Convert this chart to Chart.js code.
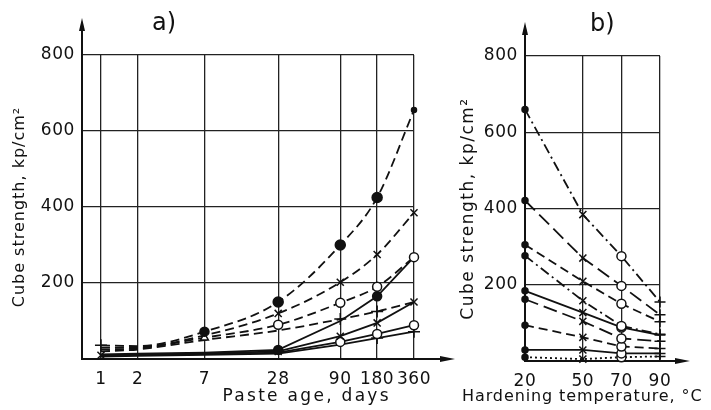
<!DOCTYPE html>
<html>
<head>
  <meta charset="UTF-8">
  <title>Cube strength of paste</title>
  <script src="https://cdn.jsdelivr.net/npm/chart.js"></script>
  <style>
    body {
      margin: 0;
      background: #fff;
    }

    #wrap {
      position: relative;
      width: 711px;
      height: 410px;
      overflow: hidden;
    }

    canvas {
      position: absolute;
      top: 0;
    }

    #chartA { left: 0; }
    #chartB { left: 450px; }

    .tag {
      position: absolute;
      font: 24px "DejaVu Sans", sans-serif;
      color: #111;
    }

    #tempTitle {
      position: absolute;
      left: 462px;
      top: 386px;
      font: 16px "DejaVu Sans", sans-serif;
      letter-spacing: 0.9px;
      color: #111;
      white-space: nowrap;
    }
  </style>
</head>
<body>
  <div id="wrap">
    <canvas id="chartA" width="470" height="410"></canvas>
    <canvas id="chartB" width="261" height="410"></canvas>
    <div class="tag" style="left:152px;top:8px">a)</div>
    <div class="tag" style="left:590px;top:9px">b)</div>
    <div id="tempTitle">Hardening temperature, °C</div>
  </div>

  <script>
    // a) strength against paste age
    var ageDays = [1, 2, 7, 28, 90, 180, 360];
    var ageDash1 = [36, 34, 72, 150, 300, 425, 655];
    var ageDash2 = [30, 31, 62, 120, 202, 275, 385];
    var ageDash3 = [25, 28, 56, 90, 148, 190, 268];
    var ageDash4 = [20, 25, 50, 75, 105, 125, 150];
    var ageSolid1 = [12, 14, 17, 24, 100, 165, 268];
    var ageSolid2 = [10, 12, 15, 20, 60, 95, 150];
    var ageSolid3 = [8, 10, 13, 17, 45, 66, 89];
    var ageSolid4 = [6, 8, 11, 14, 38, 55, 72];

    // b) strength against hardening temperature
    var tempC = [20, 50, 70, 90];
    var tempDashDot1 = [660, 384, 275, 155];
    var tempLongDash1 = [421, 270, 197, 121];
    var tempDash1 = [305, 209, 150, 103];
    var tempDashDot2 = [276, 158, 92, 70];
    var tempSolid1 = [184, 127, 88, 68];
    var tempLongDash2 = [162, 104, 59, 52];
    var tempDash2 = [94, 62, 38, 33];
    var tempSolid2 = [29, 29, 20, 20];
    var tempDotted = [10, 5, 10, 12];

    var strengthTicks = [0, 200, 400, 600, 800];

    var INK = '#111';
    Chart.defaults.font.family = '"DejaVu Sans", sans-serif';
    Chart.defaults.color = INK;

    function pts(xs, ys) {
      return xs.map(function (x, i) { return { x: x, y: ys[i] }; });
    }

    function series(xs, ys, dash, marks) {
      return Object.assign({
        data: pts(xs, ys),
        borderColor: INK,
        borderWidth: 1.8,
        borderDash: dash,
        pointBorderColor: INK,
        pointBorderWidth: 1.5,
        pointBackgroundColor: INK,
        clip: false,
        tension: 0
      }, marks);
    }

    // the old lettering is widely spaced, so give the axis titles some letter spacing
    function spaceTitle(s, sp) {
      if (s._spaced) return;
      s._spaced = true;
      var orig = s.drawTitle;
      s.drawTitle = function () {
        var c = this.ctx, old = c.letterSpacing;
        c.letterSpacing = sp;
        orig.apply(this, arguments);
        c.letterSpacing = old;
      };
    }

    var tickSpacing = {
      id: 'tickSpacing',
      beforeDraw: function (chart) { chart.ctx.letterSpacing = '0.6px'; }
    };

    // draws the axis extensions with arrow heads
    var axisArrows = {
      id: 'axisArrows',
      afterDraw: function (chart, args, opts) {
        var ctx = chart.ctx, a = chart.chartArea;
        ctx.save();
        ctx.strokeStyle = INK;
        ctx.fillStyle = INK;
        ctx.lineWidth = 2;
        ctx.beginPath();
        ctx.moveTo(a.left, a.top);
        ctx.lineTo(a.left, opts.top + 6);
        ctx.moveTo(a.right, a.bottom);
        ctx.lineTo(opts.right - 6, a.bottom);
        ctx.stroke();
        ctx.beginPath();
        ctx.moveTo(a.left, opts.top);
        ctx.lineTo(a.left - 3, opts.top + 13);
        ctx.lineTo(a.left + 3, opts.top + 13);
        ctx.closePath();
        ctx.fill();
        ctx.beginPath();
        ctx.moveTo(opts.right, a.bottom);
        ctx.lineTo(opts.right - 15, a.bottom - 3);
        ctx.lineTo(opts.right - 15, a.bottom + 3);
        ctx.closePath();
        ctx.fill();
        ctx.restore();
      }
    };

    function yScale(width, titleSize, titlePad, titleSpacing) {
      return {
        min: 0,
        max: 800,
        afterBuildTicks: function (s) { s.ticks = strengthTicks.map(function (v) { return { value: v }; }); },
        afterFit: function (s) {
          s.width = width;
          spaceTitle(s, titleSpacing);
        },
        ticks: {
          padding: 7,
          font: { size: 17 },
          callback: function (v) { return v === 0 ? '' : String(v); }
        },
        grid: { color: '#222', lineWidth: 1.3, drawTicks: false },
        border: { color: INK, width: 2 },
        title: {
          display: true,
          text: 'Cube strength, kp/cm²',
          font: { size: titleSize },
          padding: { top: titlePad, bottom: 0 }
        }
      };
    }

    function xGrid() {
      return { color: '#222', lineWidth: 1.3, drawTicks: false };
    }

    var commonPlugins = {
      legend: { display: false },
      tooltip: { enabled: false }
    };

    var dashA = [9, 5];
    var chartA = new Chart(document.getElementById('chartA'), {
      type: 'line',
      data: {
        datasets: [
          series(ageDays, ageDash1, dashA, {
            cubicInterpolationMode: 'monotone',
            pointStyle: ['cross', 'circle', 'circle', 'circle', 'circle', 'circle', 'circle'],
            pointRadius: [6, 0, 4.5, 5, 5, 5, 2.5]
          }),
          series(ageDays, ageDash2, dashA, {
            cubicInterpolationMode: 'monotone',
            pointStyle: 'crossRot',
            pointRadius: [0, 0, 0, 5, 5, 5, 5]
          }),
          series(ageDays, ageDash3, dashA, {
            cubicInterpolationMode: 'monotone',
            pointStyle: ['circle', 'circle', 'triangle', 'circle', 'circle', 'circle', 'circle'],
            pointBackgroundColor: '#fff',
            pointRadius: [0, 0, 4.5, 4.5, 4.5, 4.5, 4.5]
          }),
          series(ageDays, ageDash4, dashA, {
            cubicInterpolationMode: 'monotone',
            pointStyle: 'cross',
            pointRadius: [0, 0, 0, 0, 6, 6, 0]
          }),
          series(ageDays, ageSolid1, [], {
            pointStyle: 'circle',
            pointRadius: [0, 0, 0, 4.5, 0, 4.5, 0]
          }),
          series(ageDays, ageSolid2, [], {
            pointStyle: 'crossRot',
            pointRadius: [5, 0, 0, 5, 5, 5, 5]
          }),
          series(ageDays, ageSolid3, [], {
            pointStyle: 'circle',
            pointBackgroundColor: '#fff',
            pointRadius: [0, 0, 0, 0, 4.5, 4.5, 4.5]
          }),
          series(ageDays, ageSolid4, [], {
            pointStyle: 'cross',
            pointRadius: [0, 0, 0, 0, 0, 6, 6]
          })
        ]
      },
      options: {
        responsive: false,
        animation: false,
        layout: { padding: { top: 55, right: 56, bottom: 0, left: 0 } },
        scales: {
          x: {
            type: 'logarithmic',
            min: 0.7,
            max: 360,
            afterBuildTicks: function (s) { s.ticks = ageDays.map(function (v) { return { value: v }; }); },
            afterFit: function (s) {
              s.height = 51;
              spaceTitle(s, '2.3px');
            },
            ticks: {
              autoSkip: false,
              maxRotation: 0,
              padding: 10,
              font: { size: 17 },
              callback: function (v) { return String(v); }
            },
            grid: xGrid(),
            border: { color: INK, width: 2 },
            title: {
              display: true,
              text: 'Paste age, days   ',
              align: 'end',
              font: { size: 17 },
              padding: { top: 0, bottom: 3 }
            }
          },
          y: yScale(82, 16, 10, '1px')
        },
        plugins: Object.assign({ axisArrows: { top: 18, right: 455 } }, commonPlugins)
      },
      plugins: [tickSpacing, axisArrows]
    });

    var tempMarks = {
      pointStyle: ['circle', 'crossRot', 'circle', 'cross'],
      pointRadius: [3, 5, 4.5, 5.5],
      pointBackgroundColor: [INK, INK, '#fff', INK]
    };

    var chartB = new Chart(document.getElementById('chartB'), {
      type: 'line',
      data: {
        datasets: [
          series(tempC, tempDashDot1, [10, 4, 2, 4], tempMarks),
          series(tempC, tempLongDash1, [14, 6], tempMarks),
          series(tempC, tempDash1, [9, 5], tempMarks),
          series(tempC, tempDashDot2, [10, 4, 2, 4], tempMarks),
          series(tempC, tempSolid1, [], tempMarks),
          series(tempC, tempLongDash2, [14, 6], tempMarks),
          series(tempC, tempDash2, [9, 5], tempMarks),
          series(tempC, tempSolid2, [], tempMarks),
          series(tempC, tempDotted, [2, 3], tempMarks)
        ]
      },
      options: {
        responsive: false,
        animation: false,
        layout: { padding: { top: 56, right: 51, bottom: 0, left: 0 } },
        scales: {
          x: {
            type: 'linear',
            min: 20,
            max: 90,
            afterBuildTicks: function (s) { s.ticks = tempC.map(function (v) { return { value: v }; }); },
            afterFit: function (s) { s.height = 49; },
            ticks: {
              autoSkip: false,
              maxRotation: 0,
              padding: 10,
              font: { size: 17 },
              callback: function (v) { return String(v); }
            },
            grid: xGrid(),
            border: { color: INK, width: 2 }
          },
          y: yScale(75, 17, 8, '1.5px')
        },
        plugins: Object.assign({ axisArrows: { top: 22, right: 240 } }, commonPlugins)
      },
      plugins: [tickSpacing, axisArrows]
    });
  </script>
</body>
</html>
